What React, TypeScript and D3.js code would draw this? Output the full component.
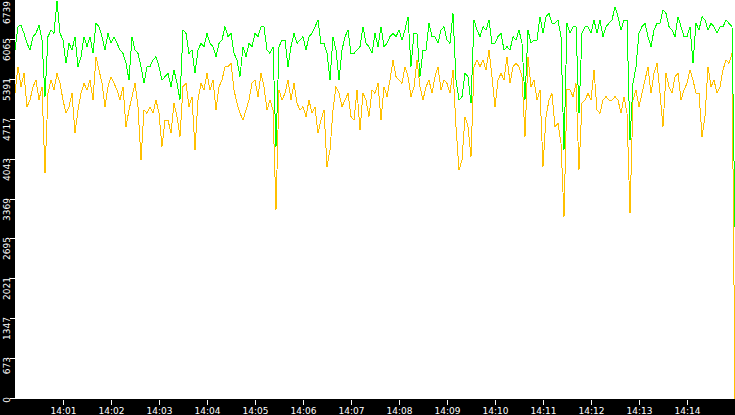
import React, { useRef, useEffect } from 'react';
import * as d3 from 'd3';

// samples every 3.75 s from 14:00:00 to 14:15:00
const startTime = new Date(2024, 0, 1, 14, 0, 0);
const endTime = new Date(2024, 0, 1, 14, 15, 0);
const sampleSeconds = 3.75;

const greenSeries = [
  5894, 6289, 6317, 6176, 6007, 5894, 6120, 6176, 6317, 6063, 5106, 6120, 6232, 6176, 6720, 6176, 6063, 5669, 6007, 5894,
  6120, 5613, 5782, 6120, 5951, 6120, 5838, 6345, 6289, 6120, 5894, 6176, 6007, 6120, 6007, 5894, 5838, 5669, 5388, 6120,
  5894, 5838, 5613, 5332, 5613, 5613, 5726, 5782, 5613, 5388, 5444, 5500, 5275, 5557, 5332, 5050, 6232, 6176, 5838, 5894,
  5500, 5894, 6007, 5951, 6176, 6007, 5951, 5782, 6007, 6063, 6289, 6120, 6176, 5838, 5726, 5444, 5951, 5782, 6007, 5951,
  6176, 6120, 6289, 6289, 5894, 5838, 5951, 4262, 5951, 6063, 6063, 5613, 5951, 6176, 6007, 6063, 6120, 5894, 6120, 6176,
  6289, 6401, 6007, 6007, 5838, 5388, 6120, 5894, 5388, 5894, 6120, 6232, 5838, 5838, 5894, 5951, 6289, 6007, 5951, 5838,
  6176, 5951, 6289, 5951, 6007, 6120, 6176, 6120, 6232, 6063, 6232, 6458, 5613, 6176, 6176, 5444, 5894, 5894, 6345, 6120,
  6120, 6007, 6232, 6289, 6063, 6007, 6514, 5388, 5050, 5106, 5500, 5444, 4994, 6401, 6232, 6120, 6289, 6232, 6401, 6007,
  6007, 6120, 6176, 5894, 5951, 5894, 6120, 6063, 6232, 6007, 5050, 6232, 6007, 6063, 6063, 6458, 6176, 6458, 6514, 6345,
  6345, 6401, 6120, 4206, 6345, 6176, 6289, 6289, 4825, 6176, 6289, 6289, 6176, 6401, 6176, 6401, 6120, 6289, 6345, 6401,
  6626, 6458, 6232, 6401, 6401, 4374, 5332, 5613, 6176, 6289, 6345, 6120, 5951, 6232, 6345, 6345, 6570, 6514, 6289, 6232,
  6120, 6458, 6289, 6120, 6120, 6289, 5669, 6345, 6232, 6458, 6401, 6232, 6345, 6289, 6176, 6289, 6289, 6401, 6345, 6289,
  2900,
];

const orangeSeries = [
  5163, 5613, 5275, 5500, 4937, 5050, 5275, 5388, 5050, 5275, 3811, 5163, 5388, 5219, 5500, 5332, 5050, 4825, 4937, 5163,
  4487, 4881, 5163, 5332, 5219, 5388, 5050, 5782, 5557, 5332, 4937, 5275, 5444, 5332, 5219, 5050, 5275, 4600, 4881, 5106,
  5332, 4937, 4037, 4881, 4825, 4937, 4825, 5050, 4825, 4262, 4712, 4712, 4487, 4994, 4769, 4431, 5275, 5332, 4937, 5106,
  4206, 5050, 5332, 5219, 5500, 5219, 5388, 4881, 5275, 5388, 5613, 5613, 5669, 5219, 4994, 4825, 4712, 4881, 5050, 5332,
  5388, 5106, 5500, 5275, 4881, 5050, 4881, 3192, 5219, 5050, 5163, 5388, 5050, 5332, 4994, 4881, 4937, 4769, 5050, 4825,
  4937, 4487, 4712, 4881, 3924, 4206, 4881, 5275, 5163, 4937, 5050, 5163, 4769, 4712, 5219, 4543, 5163, 5050, 4769, 5219,
  5163, 5332, 4712, 5275, 5106, 5388, 5726, 5444, 5388, 5332, 5613, 5444, 5106, 5275, 5726, 5275, 5050, 5275, 5388, 5163,
  5444, 5613, 5219, 5388, 5332, 5163, 5557, 4600, 3868, 4037, 4769, 4600, 4093, 5613, 5726, 5613, 5726, 5557, 5894, 5444,
  4937, 5388, 5500, 5388, 5782, 5332, 5613, 5669, 5613, 5444, 4431, 5782, 5275, 5388, 5050, 5219, 3924, 4769, 5050, 5163,
  4600, 4656, 4318, 3080, 5219, 5219, 5106, 5332, 3868, 4994, 5050, 5163, 5050, 5557, 4881, 4825, 5050, 5106, 5050, 5050,
  5106, 5050, 4825, 5106, 4825, 3136, 5050, 5219, 4937, 5163, 5388, 5613, 5163, 5500, 5669, 5163, 4600, 5500, 5275, 5163,
  5444, 5500, 5050, 5219, 5332, 5557, 5388, 5163, 5163, 4431, 4769, 5613, 5275, 5388, 5163, 5275, 5557, 5726, 5669, 5838,
  0,
];

const yTickLabels = ['0', '673', '1347', '2021', '2695', '3369', '4043', '4717', '5391', '6065', '6739'];
const xTickLabels = ['14:01', '14:02', '14:03', '14:04', '14:05', '14:06', '14:07', '14:08', '14:09', '14:10', '14:11', '14:12', '14:13', '14:14'];
const yMax = 6739;

const App = () => {
  const chartRef = useRef<SVGSVGElement | null>(null);

  useEffect(() => {
    const width = 735;
    const height = 415;
    const left = 15;
    const bottom = 399;

    const svg = d3.select(chartRef.current);
    svg.selectAll('*').remove();

    const x = d3.scaleTime().domain([startTime, endTime]).range([left, width]);
    const y = d3.scaleLinear().domain([0, yMax]).range([bottom, 0]);
    const timeAt = (i: number) => new Date(startTime.getTime() + i * sampleSeconds * 1000);

    // frame: black strips left and bottom, white plot
    svg.append('rect').attr('width', width).attr('height', height).attr('fill', '#000');
    svg.append('rect').attr('x', left).attr('y', 0).attr('width', width - left).attr('height', bottom).attr('fill', '#fff');

    svg.append('clipPath').attr('id', 'plot-clip')
      .append('rect').attr('x', left).attr('y', 0).attr('width', width - left).attr('height', bottom);

    const line = d3.line<number>()
      .x((d, i) => x(timeAt(i)))
      .y(d => y(d));

    const plot = svg.append('g').attr('clip-path', 'url(#plot-clip)');
    plot.append('path')
      .attr('d', line(orangeSeries))
      .attr('fill', 'none')
      .attr('stroke', '#FFC000')
      .attr('stroke-width', 1)
      .attr('shape-rendering', 'crispEdges');
    plot.append('path')
      .attr('d', line(greenSeries))
      .attr('fill', 'none')
      .attr('stroke', '#00FF00')
      .attr('stroke-width', 1)
      .attr('shape-rendering', 'crispEdges');

    // y axis: ticks and rotated labels (top label kept inside the strip)
    const yAxis = svg.append('g');
    yTickLabels.forEach(label => {
      const ty = Math.round(y(+label));
      yAxis.append('line')
        .attr('x1', 10).attr('x2', left)
        .attr('y1', ty - 0.5).attr('y2', ty - 0.5)
        .attr('stroke', '#fff')
        .attr('shape-rendering', 'crispEdges');
      yAxis.append('text')
        .attr('transform', `translate(10,${Math.max(ty - 2, 1)}) rotate(-90)`)
        .attr('text-anchor', 'end')
        .attr('fill', '#fff')
        .attr('font-family', 'DejaVu Sans')
        .attr('font-size', 9)
        .text(label);
    });

    // x axis: ticks and labels
    const xAxis = svg.append('g');
    xTickLabels.forEach(label => {
      const [hh, mm] = label.split(':').map(Number);
      const tx = Math.round(x(new Date(2024, 0, 1, hh, mm, 0))) + 0.5;
      xAxis.append('line')
        .attr('x1', tx).attr('x2', tx)
        .attr('y1', bottom + 1).attr('y2', bottom + 6)
        .attr('stroke', '#fff')
        .attr('shape-rendering', 'crispEdges');
      xAxis.append('text')
        .attr('x', tx)
        .attr('y', 414)
        .attr('text-anchor', 'middle')
        .attr('fill', '#fff')
        .attr('font-family', 'DejaVu Sans')
        .attr('font-size', 9)
        .text(label);
    });

    return () => {
      d3.select(chartRef.current).selectAll('*').remove();
    };
  }, []);

  return (
    <div style={{ position: 'absolute', left: 0, top: 0 }}>
      <svg ref={chartRef} width={735} height={415} style={{ display: 'block' }} />
    </div>
  );
};

export default App;
